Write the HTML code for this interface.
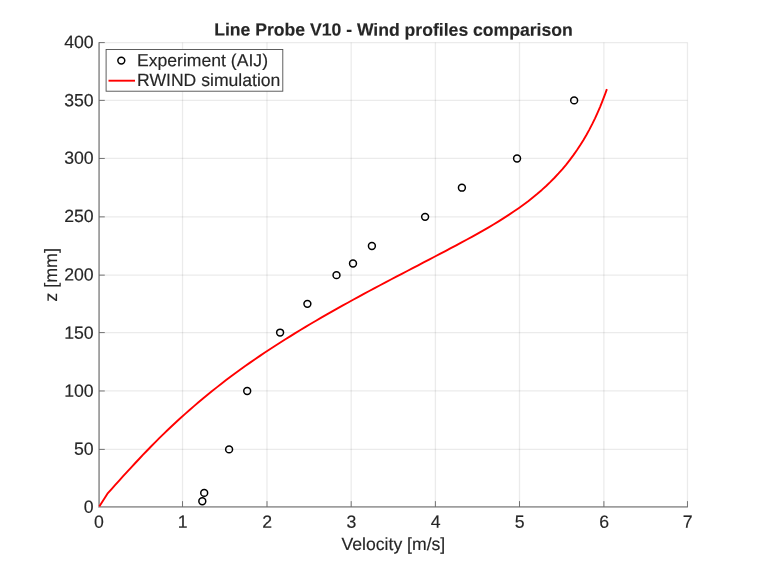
<!DOCTYPE html>
<html><head><meta charset="utf-8"><title>Line Probe V10 - Wind profiles comparison</title>
<style>
html,body{margin:0;padding:0;background:#fff;}
svg{display:block;}
text{font-family:"Liberation Sans", Arial, Helvetica, sans-serif;fill:#262626;stroke:#262626;stroke-width:0.15px;}
</style></head><body>
<svg width="760" height="570" viewBox="0 0 760 570">
<rect x="0" y="0" width="760" height="570" fill="#ffffff"/>

<line x1="182.53" y1="42.58" x2="182.53" y2="506.83" stroke="#000" stroke-opacity="0.078" stroke-width="1.3"/>
<line x1="267.00" y1="42.58" x2="267.00" y2="506.83" stroke="#000" stroke-opacity="0.078" stroke-width="1.3"/>
<line x1="351.20" y1="42.58" x2="351.20" y2="506.83" stroke="#000" stroke-opacity="0.078" stroke-width="1.3"/>
<line x1="435.40" y1="42.58" x2="435.40" y2="506.83" stroke="#000" stroke-opacity="0.078" stroke-width="1.3"/>
<line x1="519.50" y1="42.58" x2="519.50" y2="506.83" stroke="#000" stroke-opacity="0.078" stroke-width="1.3"/>
<line x1="603.90" y1="42.58" x2="603.90" y2="506.83" stroke="#000" stroke-opacity="0.078" stroke-width="1.3"/>
<line x1="687.48" y1="42.58" x2="687.48" y2="506.83" stroke="#000" stroke-opacity="0.078" stroke-width="1.3"/>
<line x1="99.08" y1="449.40" x2="687.48" y2="449.40" stroke="#000" stroke-opacity="0.078" stroke-width="1.3"/>
<line x1="99.08" y1="390.97" x2="687.48" y2="390.97" stroke="#000" stroke-opacity="0.078" stroke-width="1.3"/>
<line x1="99.08" y1="332.58" x2="687.48" y2="332.58" stroke="#000" stroke-opacity="0.078" stroke-width="1.3"/>
<line x1="99.08" y1="275.13" x2="687.48" y2="275.13" stroke="#000" stroke-opacity="0.078" stroke-width="1.3"/>
<line x1="99.08" y1="216.86" x2="687.48" y2="216.86" stroke="#000" stroke-opacity="0.078" stroke-width="1.3"/>
<line x1="99.08" y1="158.46" x2="687.48" y2="158.46" stroke="#000" stroke-opacity="0.078" stroke-width="1.3"/>
<line x1="99.08" y1="100.38" x2="687.48" y2="100.38" stroke="#000" stroke-opacity="0.078" stroke-width="1.3"/>
<line x1="99.08" y1="42.58" x2="687.48" y2="42.58" stroke="#000" stroke-opacity="0.078" stroke-width="1.3"/>
<path d="M99.08 42.18 L99.08 506.83 L687.88 506.83" fill="none" stroke="#9e9e9e" stroke-width="1.8"/>
<text x="98.93" y="527.75" transform="rotate(0.03 98.93 527.75)" font-size="17.7" text-anchor="middle">0</text>
<line x1="182.53" y1="506.83" x2="182.53" y2="501.13" stroke="#555555" stroke-width="0.8"/>
<text x="182.73" y="527.75" transform="rotate(0.03 182.73 527.75)" font-size="17.7" text-anchor="middle">1</text>
<line x1="267.00" y1="506.83" x2="267.00" y2="501.13" stroke="#555555" stroke-width="0.8"/>
<text x="267.20" y="527.75" transform="rotate(0.03 267.20 527.75)" font-size="17.7" text-anchor="middle">2</text>
<line x1="351.20" y1="506.83" x2="351.20" y2="501.13" stroke="#555555" stroke-width="0.8"/>
<text x="351.40" y="527.75" transform="rotate(0.03 351.40 527.75)" font-size="17.7" text-anchor="middle">3</text>
<line x1="435.40" y1="506.83" x2="435.40" y2="501.13" stroke="#555555" stroke-width="0.8"/>
<text x="435.60" y="527.75" transform="rotate(0.03 435.60 527.75)" font-size="17.7" text-anchor="middle">4</text>
<line x1="519.50" y1="506.83" x2="519.50" y2="501.13" stroke="#555555" stroke-width="0.8"/>
<text x="519.70" y="527.75" transform="rotate(0.03 519.70 527.75)" font-size="17.7" text-anchor="middle">5</text>
<line x1="603.90" y1="506.83" x2="603.90" y2="501.13" stroke="#555555" stroke-width="0.8"/>
<text x="604.10" y="527.75" transform="rotate(0.03 604.10 527.75)" font-size="17.7" text-anchor="middle">6</text>
<line x1="687.48" y1="506.83" x2="687.48" y2="501.13" stroke="#555555" stroke-width="0.8"/>
<text x="687.68" y="527.75" transform="rotate(0.03 687.68 527.75)" font-size="17.7" text-anchor="middle">7</text>
<text x="93.70" y="512.80" transform="rotate(0.03 93.70 512.80)" font-size="17.7" text-anchor="end">0</text>
<line x1="99.08" y1="449.40" x2="104.78" y2="449.40" stroke="#555555" stroke-width="0.8"/>
<text x="93.70" y="454.80" transform="rotate(0.03 93.70 454.80)" font-size="17.7" text-anchor="end">50</text>
<line x1="99.08" y1="390.97" x2="104.78" y2="390.97" stroke="#555555" stroke-width="0.8"/>
<text x="93.70" y="396.65" transform="rotate(0.03 93.70 396.65)" font-size="17.7" text-anchor="end">100</text>
<line x1="99.08" y1="332.58" x2="104.78" y2="332.58" stroke="#555555" stroke-width="0.8"/>
<text x="93.70" y="338.80" transform="rotate(0.03 93.70 338.80)" font-size="17.7" text-anchor="end">150</text>
<line x1="99.08" y1="275.13" x2="104.78" y2="275.13" stroke="#555555" stroke-width="0.8"/>
<text x="93.70" y="280.55" transform="rotate(0.03 93.70 280.55)" font-size="17.7" text-anchor="end">200</text>
<line x1="99.08" y1="216.86" x2="104.78" y2="216.86" stroke="#555555" stroke-width="0.8"/>
<text x="93.70" y="222.10" transform="rotate(0.03 93.70 222.10)" font-size="17.7" text-anchor="end">250</text>
<line x1="99.08" y1="158.46" x2="104.78" y2="158.46" stroke="#555555" stroke-width="0.8"/>
<text x="93.70" y="163.85" transform="rotate(0.03 93.70 163.85)" font-size="17.7" text-anchor="end">300</text>
<line x1="99.08" y1="100.38" x2="104.78" y2="100.38" stroke="#555555" stroke-width="0.8"/>
<text x="93.70" y="106.35" transform="rotate(0.03 93.70 106.35)" font-size="17.7" text-anchor="end">350</text>
<line x1="99.08" y1="42.58" x2="104.78" y2="42.58" stroke="#555555" stroke-width="0.8"/>
<text x="93.70" y="47.90" transform="rotate(0.03 93.70 47.90)" font-size="17.7" text-anchor="end">400</text>
<text x="393.40" y="550.00" transform="rotate(0.03 393.40 550.00)" font-size="17.62" text-anchor="middle">Velocity [m/s]</text>
<text x="57.10" y="274.85" transform="rotate(-89.97 57.10 274.85)" font-size="17.9" text-anchor="middle">z [mm]</text>
<text x="393.48" y="35.65" transform="rotate(0.03 393.48 35.65)" font-size="17.6" text-anchor="middle" font-weight="bold" fill="#111" stroke="#111" stroke-width="0.2">Line Probe V10 - Wind profiles comparison</text>
<path d="M99.30 506.40 L107.43 493.69 L111.34 489.31 L115.26 484.94 L119.19 480.57 L123.14 476.22 L127.09 471.88 L131.07 467.56 L135.06 463.26 L139.07 458.98 L143.10 454.72 L147.16 450.48 L151.25 446.28 L155.37 442.10 L159.52 437.95 L163.70 433.84 L167.92 429.77 L172.18 425.73 L176.47 421.73 L180.80 417.77 L185.17 413.84 L189.57 409.95 L194.01 406.10 L198.49 402.28 L203.00 398.50 L207.55 394.75 L212.13 391.04 L216.75 387.37 L221.41 383.73 L226.10 380.12 L230.82 376.55 L235.59 373.02 L240.38 369.52 L245.21 366.06 L250.08 362.63 L254.98 359.24 L259.91 355.87 L264.87 352.54 L269.86 349.24 L274.88 345.97 L279.93 342.72 L285.01 339.51 L290.11 336.32 L295.24 333.15 L300.40 330.01 L305.58 326.90 L310.78 323.80 L316.00 320.73 L321.25 317.68 L326.51 314.65 L331.79 311.64 L337.10 308.65 L342.42 305.67 L347.75 302.72 L353.10 299.77 L358.47 296.85 L363.85 293.93 L369.24 291.03 L374.64 288.14 L380.06 285.26 L385.48 282.39 L390.92 279.53 L396.36 276.67 L401.80 273.83 L407.25 270.98 L412.70 268.14 L418.16 265.30 L423.61 262.46 L429.06 259.61 L434.50 256.76 L439.94 253.91 L445.38 251.05 L450.80 248.18 L456.21 245.30 L461.61 242.40 L467.00 239.49 L472.36 236.56 L477.69 233.59 L482.98 230.60 L488.24 227.56 L493.45 224.48 L498.61 221.34 L503.72 218.15 L508.76 214.90 L513.73 211.58 L518.63 208.18 L523.45 204.71 L528.19 201.15 L532.83 197.50 L537.38 193.76 L541.83 189.91 L546.18 185.96 L550.41 181.91 L554.54 177.74 L558.55 173.46 L562.44 169.06 L566.22 164.54 L569.88 159.90 L573.42 155.15 L576.84 150.27 L580.14 145.28 L583.32 140.17 L586.39 134.94 L589.34 129.60 L592.18 124.14 L594.90 118.57 L597.51 112.89 L600.02 107.10 L602.41 101.20 L604.71 95.20 L606.89 89.09" fill="none" stroke="#ff0000" stroke-width="1.9" stroke-linejoin="round"/>
<circle cx="202.30" cy="501.20" r="3.45" fill="none" stroke="#000" stroke-width="1.5"/>
<circle cx="204.20" cy="492.90" r="3.45" fill="none" stroke="#000" stroke-width="1.5"/>
<circle cx="229.10" cy="449.40" r="3.45" fill="none" stroke="#000" stroke-width="1.5"/>
<circle cx="247.20" cy="390.97" r="3.45" fill="none" stroke="#000" stroke-width="1.5"/>
<circle cx="280.10" cy="332.58" r="3.45" fill="none" stroke="#000" stroke-width="1.5"/>
<circle cx="307.40" cy="303.86" r="3.45" fill="none" stroke="#000" stroke-width="1.5"/>
<circle cx="336.50" cy="275.13" r="3.45" fill="none" stroke="#000" stroke-width="1.5"/>
<circle cx="353.00" cy="263.48" r="3.45" fill="none" stroke="#000" stroke-width="1.5"/>
<circle cx="371.90" cy="246.00" r="3.45" fill="none" stroke="#000" stroke-width="1.5"/>
<circle cx="425.10" cy="216.86" r="3.45" fill="none" stroke="#000" stroke-width="1.5"/>
<circle cx="461.90" cy="187.66" r="3.45" fill="none" stroke="#000" stroke-width="1.5"/>
<circle cx="517.05" cy="158.46" r="3.45" fill="none" stroke="#000" stroke-width="1.5"/>
<circle cx="574.15" cy="100.38" r="3.45" fill="none" stroke="#000" stroke-width="1.5"/>
<rect x="106.1" y="49.5" width="176.70" height="41.70" fill="#fff" stroke="#4d4d4d" stroke-width="0.9"/>
<circle cx="121.3" cy="60.6" r="3.45" fill="none" stroke="#000" stroke-width="1.5"/>
<line x1="108.5" y1="80.7" x2="135" y2="80.7" stroke="#ff0000" stroke-width="1.9"/>
<text x="137.00" y="66.30" transform="rotate(0.03 137.00 66.30)" font-size="17.6" fill="#000" stroke="#000">Experiment (AIJ)</text>
<text x="137.00" y="85.90" transform="rotate(0.03 137.00 85.90)" font-size="17.6" fill="#000" stroke="#000">RWIND simulation</text>
</svg></body></html>
